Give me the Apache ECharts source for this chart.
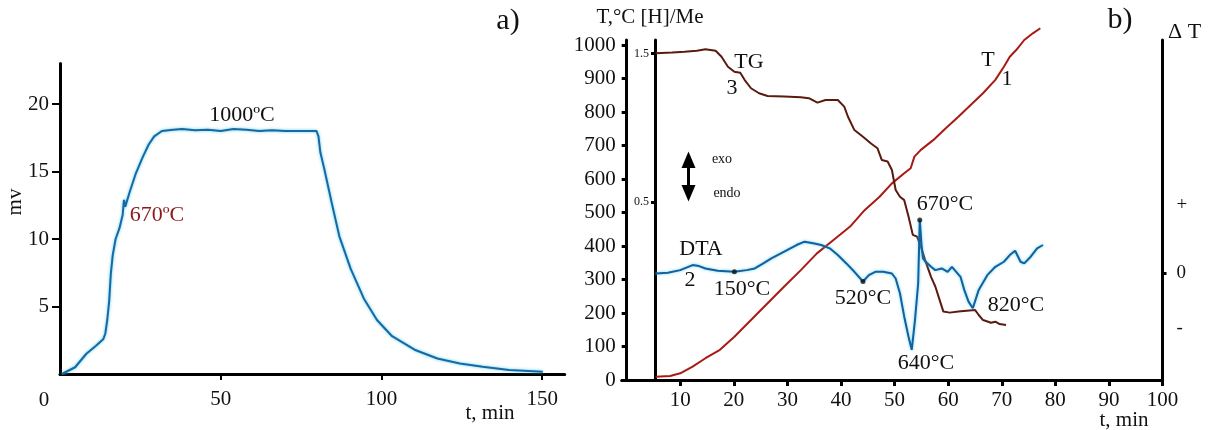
<!DOCTYPE html>
<html>
<head>
<meta charset="utf-8">
<script src="https://cdn.jsdelivr.net/npm/echarts@6/dist/echarts.min.js"></script>
<style>
html,body{margin:0;padding:0;background:#fff;}
#chart{width:1214px;height:430px;}
</style>
</head>
<body>
<div id="chart"></div>
<script>
// ---------- Panel a) : mv vs t, min ----------
const aTime = [0.6,4.7,8.2,11.2,13.5,14.1,14.7,15.3,15.8,16.4,17.3,18.5,19.5,19.9,20.3,21.7,23.5,25.8,27.6,29.3,31.7,35.2,38,42,46,50,54,58,62,66,70,74,77,79.8,80.4,81,82.2,84.5,86.9,90.4,94.5,98.6,103.3,110.3,117.4,124.4,131.5,139.7,150.2];
const aMv   = [0,0.5,1.5,2.1,2.6,3.0,4.0,5.4,7.4,8.8,10.0,10.8,11.8,12.9,12.4,13.5,14.8,16.1,17.0,17.6,18.0,18.1,18.15,18.05,18.1,18.0,18.15,18.1,18.0,18.05,18.0,18.0,18.0,18.0,17.6,16.4,15.2,12.7,10.2,7.8,5.6,4.0,2.8,1.8,1.15,0.78,0.54,0.29,0.17];
const aXTicks = [50,100,150];
const aYTicks = [5,10,15,20];

// ---------- Panel b) : T, TG, DTA vs t, min ----------
const tTime = [5.4,8.1,10,12.3,14.7,17.4,20.1,23.2,26.3,29.4,32.5,35.5,38.6,41.7,44.4,47.2,49.5,51.8,53.0,53.7,54.9,57.2,59.5,61.9,64.2,66.5,68.8,70.4,71.5,72.7,74.2,75.8,77.2];
const tTemp = [10,12,20,40,65,90,129,179,229,279,328,378,418,458,507,547,587,617,632,667,687,716,751,786,821,856,896,935,965,985,1015,1035,1050];

const tgTime = [5.4,8.5,10.8,13.1,14.7,16.6,17.7,18.9,20.1,21.2,22.0,23.2,24.7,26.3,29.4,32.5,34.0,35.6,37.1,39.4,40.6,41.3,42.5,44.1,45.6,46.8,47.6,48.7,49.5,50.2,51.0,51.8,52.6,53.4,54.2,54.9,55.7,56.8,57.6,58.4,59.1,60.3,61.9,65.0,65.7,66.5,68.0,68.8,69.6,70.8];
const tgVal  = [1.500,1.505,1.511,1.518,1.527,1.518,1.477,1.410,1.376,1.369,1.322,1.265,1.231,1.213,1.209,1.204,1.198,1.168,1.186,1.186,1.141,1.073,0.983,0.938,0.893,0.861,0.782,0.771,0.714,0.579,0.534,0.511,0.401,0.277,0.265,0.198,0.107,-0.006,-0.071,-0.161,-0.240,-0.247,-0.240,-0.229,-0.263,-0.297,-0.315,-0.308,-0.324,-0.331];

const dtaTime = [5.4,7.7,10,12.3,13.5,14.7,17,20.1,22.4,23.9,25.5,27,29.4,31.7,33.2,34.8,36.3,37.9,39.4,41.0,42.5,44.1,45.2,46.4,47.9,49.5,50.2,51.0,51.8,52.6,53.2,53.8,54.4,54.7,55.0,55.3,55.8,56.8,57.6,58.8,59.9,60.7,61.5,62.3,63.0,63.8,64.6,65.7,67.3,68.8,70.4,71.5,72.5,73.5,74.2,75.4,76.6,77.7];
const dtaVal  = [0,0.02,0.10,0.25,0.22,0.15,0.08,0.05,0.10,0.15,0.30,0.45,0.65,0.85,0.95,0.90,0.85,0.75,0.55,0.30,0.05,-0.24,-0.05,0.05,0.05,0,-0.15,-0.59,-1.29,-1.89,-2.28,-1.4,-0.3,1.60,0.9,0.45,0.35,0.20,0.10,0.15,0.05,0.20,0.05,-0.10,-0.49,-0.84,-1.04,-0.49,-0.05,0.20,0.35,0.55,0.68,0.35,0.30,0.50,0.75,0.85];
const dtaDotIdx = [7,21,33];

const bXTicks = [10,20,30,40,50,60,70,80,90,100];
const bTTicks = [0,100,200,300,400,500,600,700,800,900,1000];
const bTGTicks = [0.5,1.5];
const bDTValues = [-1.64,0,2.04];
const bDTTexts  = ['-','0','+'];

const zip = (xs, ys) => xs.map((x, i) => [x, ys[i]]);

const FONT = 'Liberation Serif';
const axisLineStyle = {show:true, lineStyle:{color:'#000', width:3}};

const chart = echarts.init(document.getElementById('chart'));
const txt = (text, x, y, size, extra, rot) => ({
  type:'text', x:x, y:y, z:100, rotation:rot||0,
  style:Object.assign({text:text, fontFamily:FONT, fontSize:size, fill:'#111', align:'center', verticalAlign:'middle'}, extra||{})
});

chart.setOption({
  animation:false,
  backgroundColor:'#fff',
  grid:[
    {left:60, top:63.5, width:504.7, height:310.5, containLabel:false},
    {left:621.7, top:40, width:540.8, height:340, containLabel:false}
  ],
  xAxis:[
    {gridIndex:0, type:'value', min:0, max:157, splitLine:{show:false},
     axisLine:axisLineStyle,
     axisTick:{customValues:aXTicks, length:6, lineStyle:{color:'#000', width:2}},
     axisLabel:{customValues:aXTicks, fontFamily:FONT, fontSize:21, color:'#111', margin:15, formatter:v => String(v)}},
    {gridIndex:1, type:'value', min:-0.93, max:100, splitLine:{show:false},
     axisLine:axisLineStyle,
     axisTick:{customValues:bXTicks, length:6, lineStyle:{color:'#000', width:3}},
     axisLabel:{customValues:bXTicks, fontFamily:FONT, fontSize:21, color:'#111', margin:10, formatter:v => String(v)}}
  ],
  yAxis:[
    {gridIndex:0, type:'value', min:0, max:23, splitLine:{show:false},
     axisLine:axisLineStyle,
     axisTick:{customValues:aYTicks, length:8, lineStyle:{color:'#000', width:2}},
     axisLabel:{customValues:aYTicks, fontFamily:FONT, fontSize:21, color:'#111', margin:11, formatter:v => String(v)}},
    {gridIndex:1, type:'value', min:0, max:1015, splitLine:{show:false},
     axisLine:axisLineStyle,
     axisTick:{customValues:bTTicks, length:5, lineStyle:{color:'#000', width:3}},
     axisLabel:{customValues:bTTicks, fontFamily:FONT, fontSize:21, color:'#111', margin:6, formatter:v => String(v)}},
    {gridIndex:1, type:'value', min:-0.701, max:1.590, offset:-33.3, position:'left', splitLine:{show:false},
     axisLine:axisLineStyle,
     axisTick:{customValues:bTGTicks, length:4, lineStyle:{color:'#000', width:3}},
     axisLabel:{customValues:bTGTicks, fontFamily:FONT, fontSize:12, color:'#111', margin:6,
       formatter:v => v.toFixed(1)}},
    {gridIndex:1, type:'value', min:-3.18, max:6.97, position:'right', splitLine:{show:false},
     axisLine:axisLineStyle,
     axisTick:{customValues:[0], length:4, lineStyle:{color:'#000', width:3}},
     axisLabel:{customValues:bDTValues, fontFamily:FONT, fontSize:19, color:'#111', margin:14,
       formatter:v => { let best = 0; bDTValues.forEach((d,i)=>{ if (Math.abs(d-v) < Math.abs(bDTValues[best]-v)) best = i; }); return bDTTexts[best]; }}}
  ],
  series:[
    {type:'line', xAxisIndex:0, yAxisIndex:0, data:zip(aTime, aMv), showSymbol:false,
     lineStyle:{color:'#1868a4', width:2, shadowColor:'rgba(70,200,235,0.9)', shadowBlur:3}},
    {type:'line', xAxisIndex:1, yAxisIndex:1, data:zip(tTime, tTemp), showSymbol:false, clip:false,
     lineStyle:{color:'#a81a14', width:2}},
    {type:'line', xAxisIndex:1, yAxisIndex:2, data:zip(tgTime, tgVal), showSymbol:false, clip:false,
     lineStyle:{color:'#5a1a0e', width:2}},
    {type:'line', xAxisIndex:1, yAxisIndex:3, data:zip(dtaTime, dtaVal), showSymbol:false, clip:false,
     lineStyle:{color:'#12609e', width:2, shadowColor:'rgba(70,200,235,0.8)', shadowBlur:3}},
    {type:'scatter', xAxisIndex:1, yAxisIndex:3, data:dtaDotIdx.map(i => [dtaTime[i], dtaVal[i]]),
     symbolSize:5, itemStyle:{color:'#111'}, z:5}
  ],
  graphic:[
    txt('a)', 508, 21, 30),
    txt('b)', 1120, 20, 30),
    txt('mv', 15, 202, 21, {}, Math.PI/2),
    txt('0', 44, 400, 21),
    txt('t, min', 490, 413, 21),
    txt('t, min', 1124, 420, 21),
    txt('1000ºC', 242, 115, 22),
    txt('670ºC', 157, 215, 22, {fill:'#8b1a1a'}),
    txt('T,°C [H]/Me', 650, 17, 21),
    txt('Δ T', 1168, 32, 22, {align:'left'}),
    txt('TG', 749, 62, 22),
    txt('3', 732, 88, 22),
    txt('T', 988, 60, 22),
    txt('1', 1007, 79, 22),
    txt('DTA', 701, 249, 22),
    txt('2', 690, 280, 22),
    txt('150°C', 742, 289, 22),
    txt('520°C', 863, 298, 22),
    txt('640°C', 926, 363, 22),
    txt('670°C', 945, 204, 22),
    txt('820°C', 1016, 305, 22),
    txt('exo', 722, 159, 14),
    txt('endo', 727, 193, 14),
    {type:'line', z:100, shape:{x1:688.5, y1:165, x2:688.5, y2:188}, style:{stroke:'#000', lineWidth:3}},
    {type:'polygon', z:100, shape:{points:[[688.5,151.5],[681.5,168],[695.5,168]]}, style:{fill:'#000'}},
    {type:'polygon', z:100, shape:{points:[[688.5,201.5],[681.5,185],[695.5,185]]}, style:{fill:'#000'}}
  ]
});
</script>
</body>
</html>
